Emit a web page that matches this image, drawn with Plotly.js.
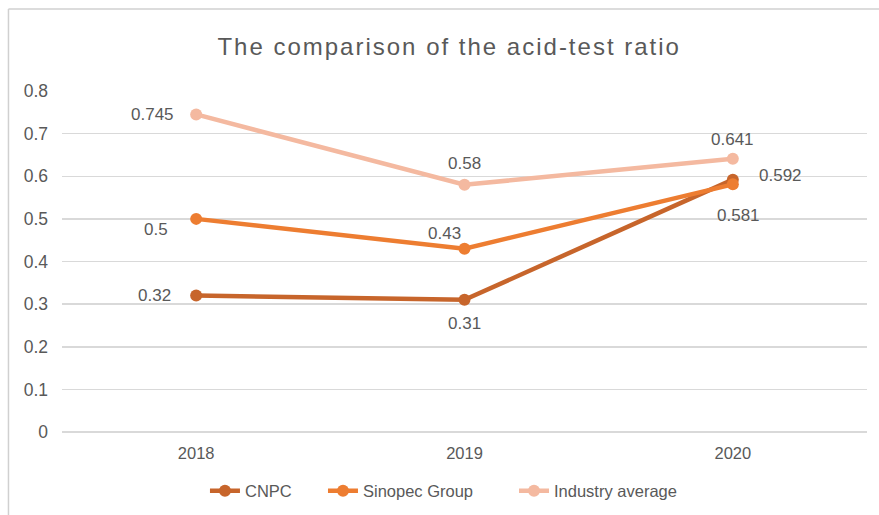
<!DOCTYPE html>
<html>
<head>
<meta charset="utf-8">
<script src="https://cdn.plot.ly/plotly-3.0.1.min.js"></script>
<style>
html,body{margin:0;padding:0;background:#fff;}
#chart{width:879px;height:515px;}
#chart .gtitle{letter-spacing:2px;}
</style>
</head>
<body>
<div id="chart"></div>
<script>
var years = ["2018", "2019", "2020"];
var cnpc = [0.32, 0.31, 0.592];
var sinopec = [0.5, 0.43, 0.581];
var industry = [0.745, 0.58, 0.641];
var seriesNames = ["CNPC", "Sinopec Group", "Industry average"];
var yTicks = [0, 0.1, 0.2, 0.3, 0.4, 0.5, 0.6, 0.7, 0.8];

var colors = ["#C7652B", "#ED7D31", "#F4B9A0"];
var allSeries = [cnpc, sinopec, industry];
// label offsets per series/point (px)
var offsets = [
  [[-42, 0], [0, -24], [48, 4]],
  [[-40, -11], [-20, 15], [6, -31]],
  [[-44, 0], [0, 21], [0, 19]]
];
var legendIds = ["legend", "legend2", "legend3"];
var legendX = [0.1776, 0.3242, 0.5615];

var FONT = "Liberation Sans, Arial, sans-serif";
var traces = [];
var annotations = [];
allSeries.forEach(function (vals, s) {
  traces.push({
    x: years, y: vals, name: seriesNames[s], type: "scatter", mode: "lines+markers",
    line: {color: colors[s], width: 4.5},
    marker: {color: colors[s], size: 12},
    legend: legendIds[s],
    hoverinfo: "x+y+name"
  });
  vals.forEach(function (v, i) {
    annotations.push({
      x: i, y: v, xref: "x", yref: "y", text: String(v), showarrow: false,
      xshift: offsets[s][i][0], yshift: offsets[s][i][1],
      font: {family: FONT, size: 17, color: "#595959"}
    });
  });
});

var layout = {
  width: 879, height: 515,
  margin: {l: 62, r: 12, t: 91, b: 83, autoexpand: false},
  paper_bgcolor: "#ffffff", plot_bgcolor: "#ffffff",
  font: {family: FONT, color: "#595959", size: 16},
  title: {text: "The comparison of the acid-test ratio", x: 0.511, xanchor: "center", y: 0.91, yanchor: "middle",
    font: {size: 24, color: "#595959", family: FONT}},
  xaxis: {type: "category", range: [-0.5, 2.5], showgrid: false, zeroline: false, showline: false,
    ticks: "", tickfont: {size: 16.5, color: "#595959"}, ticklabelstandoff: 9},
  yaxis: {range: [0, 0.8], tickvals: yTicks, ticktext: yTicks.map(String), showgrid: true,
    gridcolor: "#D9D9D9", gridwidth: 1.5, zeroline: true, zerolinecolor: "#D9D9D9", zerolinewidth: 1.5,
    showline: false, ticks: "", tickfont: {size: 17.5, color: "#595959"}, ticklabelstandoff: 13, fixedrange: true},
  annotations: annotations,
  shapes: [
    {type: "line", xref: "paper", yref: "paper", x0: -0.0665, x1: 1.02, y0: 1.2405, y1: 1.2405,
      line: {color: "#D0D0D0", width: 1.5}},
    {type: "line", xref: "paper", yref: "paper", x0: -0.0665, x1: -0.0665, y0: 1.2405, y1: -0.25,
      line: {color: "#D0D0D0", width: 1.5}}
  ],
  showlegend: true
};
legendIds.forEach(function (id, s) {
  layout[id] = {orientation: "h", x: legendX[s], xanchor: "left", y: -0.173, yanchor: "middle",
    font: {size: 16.5, color: "#595959"}, bgcolor: "rgba(0,0,0,0)"};
});

Plotly.newPlot("chart", traces, layout, {displayModeBar: false, staticPlot: true});
</script>
</body>
</html>
